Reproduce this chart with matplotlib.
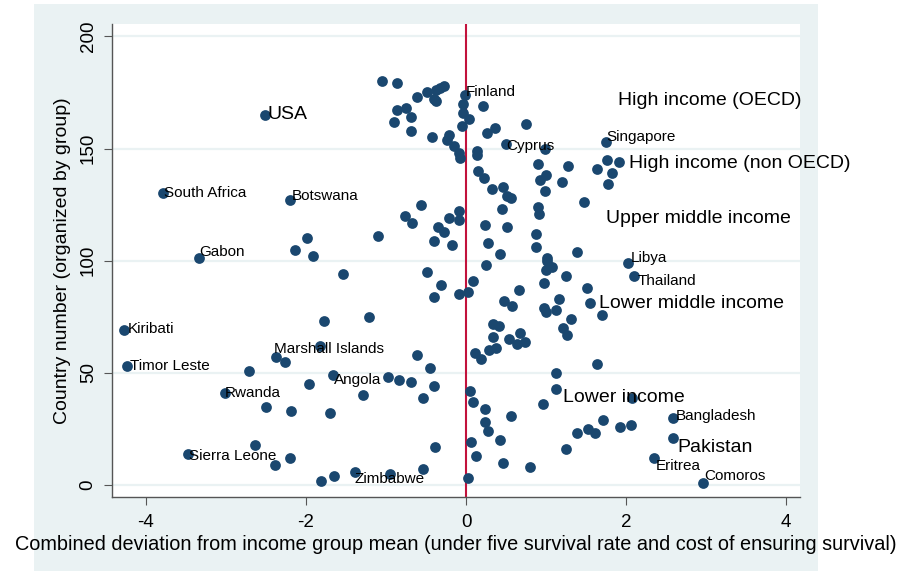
import matplotlib
matplotlib.use('Agg')
import matplotlib.pyplot as plt
import numpy as np
from matplotlib.patches import Rectangle

plt.rcParams['font.family'] = ['Liberation Sans', 'DejaVu Sans']
plt.rcParams['axes.unicode_minus'] = False

# unlabelled countries: deviation (x) and country number (y)
dev = [-1.05, -0.86, -0.28, -0.33, -0.37, -0.49, -0.61, -0.40, -0.38, -0.04,
       0.21, -0.86, -0.75, -0.90, -0.69, -0.04, 0.04, -0.05, -0.69, 0.75,
       0.36, 0.26, -0.43, -0.21, -0.24, -0.15, -0.09, -0.08, 0.14, 0.14,
       0.99, 0.90, 1.27, 1.64, 1.00, 0.93, 1.20, 0.99, 1.48, 0.90,
       0.91, 0.88, 0.88, 1.39, 1.01, 1.76, 1.91, 1.82, 1.78,
       0.15, 0.23, 0.33, 0.46, 0.51, 0.56, 0.45, -0.56, -0.76, -0.68,
       -0.21, -0.09, -0.09, -0.35, 0.24, 0.51, -0.28, -0.40, -0.18, -1.10,
       -1.99, -1.91, -2.14, 0.27, 0.42, 1.01, 1.00, 1.07, 1.25, 0.25,
       0.09, 0.03, -0.09, -0.49, -0.31, -0.40, -1.21, 0.66, 0.48, 0.57,
       0.34, 0.41, 0.34, 0.67, 0.54, 0.64, 0.74, 0.29, 0.37, 0.11,
       0.19, -0.61, -0.45, -0.97, -0.84, -0.69, -0.40, -1.29, -0.54, 0.05,
       0.98, 1.51, 1.16, 1.55, 0.98, 1.00, 1.12, 1.70, 1.31, 1.21,
       1.26, 1.64, 1.12, 1.12, 0.96, 1.71, 1.52, 1.61, 1.39, 1.93,
       2.06, 2.07, 0.56, 1.25, 0.42, 0.46, 0.80,
       -2.19, -1.70, 0.09, 0.24, 0.24, 0.28, 0.06, 0.12, -0.39, -2.20,
       -1.81, -1.65, -0.95, -0.54, 0.03,
       -1.78, -1.83, -2.26, -2.71, -1.96, -2.50, -2.64, -2.39, -1.54]
num = [180, 179, 178, 177, 176, 175, 173, 172, 171, 170,
       169, 167, 168, 162, 164, 166, 163, 160, 158, 161,
       159, 157, 155, 156, 154, 151, 148, 146, 149, 147,
       150, 143, 142, 141, 138, 136, 135, 131, 126, 124,
       121, 112, 106, 104, 101, 145, 144, 139, 134,
       140, 137, 132, 133, 129, 128, 123, 125, 120, 117,
       119, 122, 118, 115, 116, 115, 113, 109, 107, 111,
       110, 102, 105, 108, 103, 100, 96, 97, 93, 98,
       91, 86, 85, 95, 89, 84, 75, 87, 82, 80,
       72, 71, 66, 68, 65, 63, 64, 60, 61, 59,
       56, 58, 52, 48, 47, 46, 44, 40, 39, 42,
       90, 88, 83, 81, 79, 77, 78, 76, 74, 70,
       67, 54, 50, 43, 36, 29, 25, 23, 23, 26,
       27, 39, 31, 16, 20, 10, 8,
       33, 32, 37, 34, 28, 24, 19, 13, 17, 12,
       2, 4, 5, 7, 3,
       73, 62, 55, 51, 45, 35, 18, 9, 94]

# labelled countries
names = ['Finland', 'Cyprus', 'Singapore', 'USA', 'South Africa', 'Botswana',
         'Gabon', 'Libya', 'Thailand', 'Kiribati', 'Timor Leste',
         'Marshall Islands', 'Angola', 'Rwanda', 'Bangladesh', 'Pakistan',
         'Eritrea', 'Comoros', 'Sierra Leone', 'Zimbabwe']
name_dev = [-0.01, 0.50, 1.75, -2.51, -3.79, -2.20, -3.34, 2.02, 2.10, -4.28,
            -4.24, -2.38, -1.66, -3.01, 2.59, 2.59, 2.35, 2.96, -3.47, -1.39]
name_num = [174, 152, 153, 165, 130, 127, 101, 99, 93, 69,
            53, 57, 49, 41, 30, 21, 12, 1, 14, 6]
# label offsets (pixels) and sizes
name_off = [(1, 3), (0, -2), (0, 5), (2, 0), (1, 0), (2, 4), (0, 6), (3, 5), (4, -5), (4, 1),
            (3, 0), (-2, 8), (1, -5), (0, 0), (3, 2), (4, -10), (2, -8), (1, 7), (1, -2), (0, -7)]
big = ['USA', 'Pakistan']

groups = ['High income (OECD)', 'High income (non OECD)', 'Upper middle income',
          'Lower middle income', 'Lower income']
group_dev = [1.90, 2.04, 1.75, 1.66, 1.21]
group_num = [171.5, 143.5, 119, 81, 39]

navy = '#1a476f'
bg = '#eaf2f3'

fig = plt.figure(figsize=(9, 5.71), dpi=100)
fig.patch.set_facecolor('white')
fig.patches.append(Rectangle((34 / 900, 0), (818 - 34) / 900, 1 - 4 / 571,
                             transform=fig.transFigure, facecolor=bg,
                             edgecolor='none', zorder=-10))
ax = fig.add_axes([112 / 900, 74 / 571, 688 / 900, 473 / 571])
ax.set_facecolor('white')

ax.set_xlim(-4.425, 4.175)
ax.set_ylim(-5.3, 205.5)
ax.set_xticks([-4, -2, 0, 2, 4])
ax.set_yticks([0, 50, 100, 150, 200])
ax.grid(axis='y', color=bg, linewidth=1.6, zorder=0)
ax.set_axisbelow(True)
ax.axvline(0, color='#c2123c', linewidth=1.5, zorder=1)

ax.scatter(dev + name_dev, num + name_num, s=60, color=navy, zorder=3, linewidths=0)

for n, x, y, (dx, dy) in zip(names, name_dev, name_num, name_off):
    ax.annotate(n, (x, y), xytext=(dx * 0.72, dy * 0.72), textcoords='offset points',
                ha='left', va='center', fontsize=14 if n in big else 11,
                color='black', zorder=4)

for g, x, y in zip(groups, group_dev, group_num):
    ax.text(x, y, g, ha='left', va='center', fontsize=14, color='black', zorder=4)

for side in ['top', 'right']:
    ax.spines[side].set_visible(False)
for side in ['left', 'bottom']:
    ax.spines[side].set_color('#555555')
    ax.spines[side].set_linewidth(1.0)
ax.tick_params(axis='both', direction='out', length=6, width=0.8, color='#555555',
               labelsize=13.5)
ax.tick_params(axis='x', pad=6)
ax.tick_params(axis='y', pad=5)
plt.setp(ax.get_yticklabels(), rotation=90, va='center')

ax.set_xlabel('Combined deviation from income group mean (under five survival rate and cost of ensuring survival)',
              fontsize=14.3, labelpad=3)
ax.set_ylabel('Country number (organized by group)', fontsize=14, labelpad=6)

fig.savefig('out.png', dpi=100)
